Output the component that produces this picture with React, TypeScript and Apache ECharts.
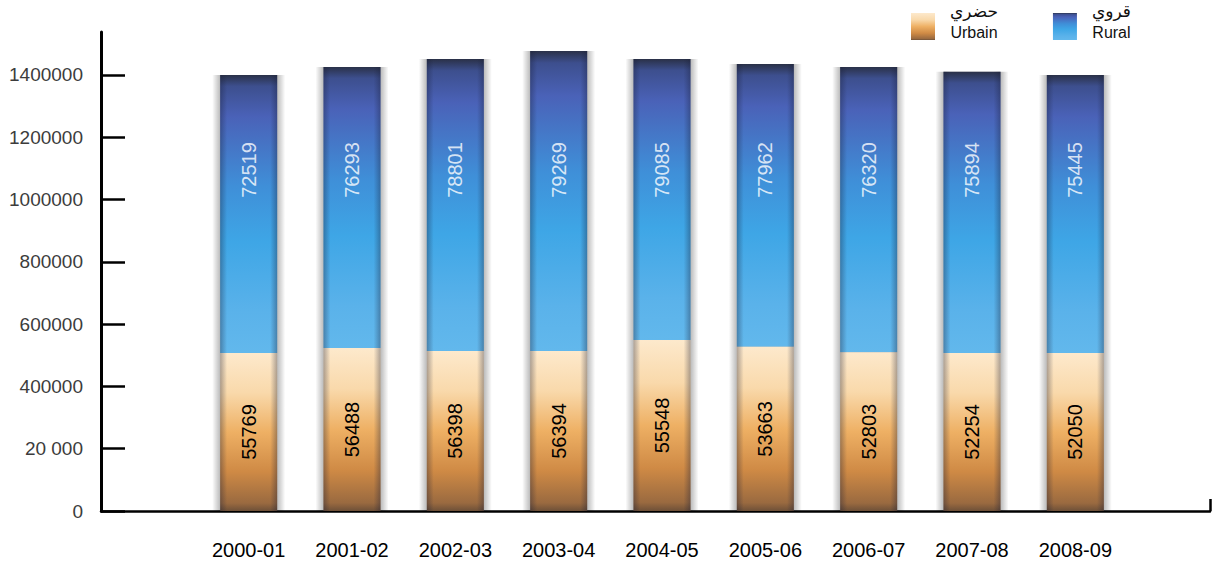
import React, { useEffect, useRef } from "react";
import * as echarts from "echarts";

const categories = ["2000-01", "2001-02", "2002-03", "2003-04", "2004-05", "2005-06", "2006-07", "2007-08", "2008-09"];
const urbanValues = [507000, 523000, 514000, 514000, 549000, 527000, 510000, 507000, 507000];
const ruralValues = [893000, 903000, 937000, 963000, 902000, 908000, 916000, 903000, 893000];
const urbanLabels = ["55769", "56488", "56398", "56394", "55548", "53663", "52803", "52254", "52050"];
const ruralLabels = ["72519", "76293", "78801", "79269", "79085", "77962", "76320", "75894", "75445"];
const tickValues = [0, 200000, 400000, 600000, 800000, 1000000, 1200000, 1400000];
const tickLabels = ["0", "20 000", "400000", "600000", "800000", "1000000", "1200000", "1400000"];
const yMax = 1538000;
const ruralLabelLevel = 1095000;

const FONT = "'Liberation Sans', Helvetica, Arial, 'DejaVu Sans', sans-serif";

export default function App() {
  const ref = useRef<HTMLDivElement>(null);
  useEffect(() => {
    if (!ref.current) return;
    const chart = echarts.init(ref.current, null, { renderer: "svg" });
    const totals = urbanValues.map((u, i) => u + ruralValues[i]);
    const urbanGrad = new echarts.graphic.LinearGradient(0, 0, 0, 1, [
      { offset: 0, color: "#fde9cc" },
      { offset: 0.25, color: "#f9d9ab" },
      { offset: 0.5, color: "#eeb064" },
      { offset: 0.75, color: "#cf8a45" },
      { offset: 0.95, color: "#9a6a40" },
      { offset: 1, color: "#6e5038" },
    ]);
    const ruralGrad = new echarts.graphic.LinearGradient(0, 0, 0, 1, [
      { offset: 0, color: "#2a3148" },
      { offset: 0.04, color: "#3d4f8e" },
      { offset: 0.15, color: "#4a62b8" },
      { offset: 0.4, color: "#3f8fd8" },
      { offset: 0.6, color: "#3ea6e6" },
      { offset: 0.85, color: "#5ab2ea" },
      { offset: 1, color: "#62b8ec" },
    ]);
    const shadowGrad = new echarts.graphic.LinearGradient(0, 0, 1, 0, [
      { offset: 0, color: "rgba(0,0,0,0)" },
      { offset: 0.13, color: "rgba(0,0,0,0.32)" },
      { offset: 0.87, color: "rgba(0,0,0,0.32)" },
      { offset: 1, color: "rgba(0,0,0,0)" },
    ]);
    const edgeGrad = new echarts.graphic.LinearGradient(0, 0, 1, 0, [
      { offset: 0, color: "rgba(25,30,55,0.35)" },
      { offset: 0.12, color: "rgba(25,30,55,0)" },
      { offset: 0.88, color: "rgba(25,30,55,0)" },
      { offset: 1, color: "rgba(25,30,55,0.35)" },
    ]);
    const hiddenCat = (gridIndex: number) => ({
      gridIndex,
      type: "category",
      data: categories,
      show: false,
    });
    const option: any = {
      animation: false,
      textStyle: { fontFamily: FONT },
      legend: {
        left: 911,
        top: 2,
        padding: 0,
        itemWidth: 24,
        itemHeight: 27,
        itemGap: 55,
        icon: "rect",
        data: ["urban", "rural"],
        formatter: (name: string) =>
          name === "urban" ? "{ar|حضري}\n{la|Urbain}" : "{ar|قروي}\n{la|Rural}",
        textStyle: {
          padding: [0, 0, 10, 10],
          rich: {
            ar: { fontSize: 17, lineHeight: 22, color: "#111", fontFamily: "'DejaVu Sans', sans-serif", align: "center" },
            la: { fontSize: 16, lineHeight: 22, color: "#111", fontFamily: FONT, align: "center" },
          },
        },
      },
      grid: [
        { left: 101, right: 8, top: 32, bottom: 51 },
        { left: 197, right: 91, top: 32, bottom: 51 },
      ],
      xAxis: [
        {
          gridIndex: 0,
          type: "value",
          min: 0,
          max: 1,
          axisLine: { show: true, lineStyle: { color: "#000", width: 2.5 } },
          axisTick: { show: true, inside: true, length: 12, customValues: [1], lineStyle: { color: "#000", width: 2.5 } },
          axisLabel: { show: false },
          splitLine: { show: false },
        },
        {
          gridIndex: 1,
          type: "category",
          data: categories,
          axisLine: { show: false },
          axisTick: { show: false },
          axisLabel: { color: "#000", fontSize: 20, margin: 29, fontFamily: FONT },
        },
        hiddenCat(1),
        hiddenCat(1),
      ],
      yAxis: [
        {
          gridIndex: 0,
          type: "value",
          min: 0,
          max: yMax,
          axisLine: { show: true, lineStyle: { color: "#000", width: 3 } },
          axisTick: { show: true, inside: true, length: 24, customValues: tickValues, lineStyle: { color: "#000", width: 2.5 } },
          axisLabel: {
            customValues: tickValues,
            formatter: (v: number) => tickLabels[tickValues.indexOf(v)] ?? "",
            color: "#3c3c3c",
            fontSize: 19,
            margin: 18,
            fontFamily: FONT,
          },
          splitLine: { show: false },
          z: 6,
        },
        { gridIndex: 1, type: "value", min: 0, max: yMax, show: false, splitLine: { show: false } },
      ],
      series: [
        {
          name: "shadow",
          type: "bar",
          xAxisIndex: 2,
          yAxisIndex: 1,
          barWidth: 73,
          z: 1,
          silent: true,
          data: totals,
          itemStyle: { color: shadowGrad },
        },
        {
          name: "urban",
          type: "bar",
          stack: "total",
          xAxisIndex: 1,
          yAxisIndex: 1,
          barWidth: 57,
          z: 3,
          data: urbanValues,
          itemStyle: { color: urbanGrad },
          label: {
            show: true,
            position: "inside",
            rotate: 90,
            color: "#000",
            fontSize: 20,
            fontFamily: FONT,
            formatter: (p: any) => urbanLabels[p.dataIndex],
          },
        },
        {
          name: "rural",
          type: "bar",
          stack: "total",
          xAxisIndex: 1,
          yAxisIndex: 1,
          barWidth: 57,
          z: 2,
          data: ruralValues,
          itemStyle: { color: ruralGrad },
        },
        {
          name: "edges",
          type: "bar",
          xAxisIndex: 3,
          yAxisIndex: 1,
          barWidth: 57,
          z: 4,
          silent: true,
          data: totals,
          itemStyle: { color: edgeGrad },
        },
        {
          name: "ruralLabels",
          type: "scatter",
          xAxisIndex: 1,
          yAxisIndex: 1,
          symbolSize: 0,
          z: 5,
          data: categories.map((_, i) => [i, ruralLabelLevel]),
          label: {
            show: true,
            position: "inside",
            rotate: 90,
            color: "#ffffff",
            fontSize: 20,
            fontFamily: FONT,
            formatter: (p: any) => ruralLabels[p.dataIndex],
          },
        },
      ],
    };
    chart.setOption(option);
    return () => chart.dispose();
  }, []);
  return (
    <div
      ref={ref}
      style={{ position: "fixed", left: 0, top: 0, width: 1218, height: 562, background: "#fff" }}
    />
  );
}
